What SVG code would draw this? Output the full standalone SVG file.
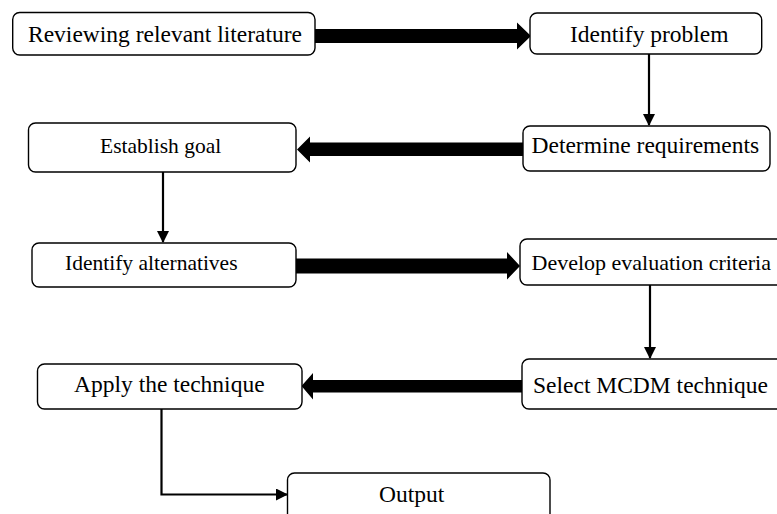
<svg xmlns="http://www.w3.org/2000/svg" width="777" height="514" viewBox="0 0 777 514">
  <style>
    .box { fill: #ffffff; stroke: #000000; stroke-width: 1.4; }
    .lbl { font-family: "Liberation Serif", "Times New Roman", serif; font-size: 23.5px; fill: #000000; }
    .sm { font-size: 21.5px; }
    .md { font-size: 22px; }
    .thin { fill: none; stroke: #000000; stroke-width: 2.2; }
    .thick { fill: #000000; stroke: none; }
  </style>
  <defs>
    <marker id="tip" markerUnits="userSpaceOnUse" markerWidth="12" markerHeight="12" viewBox="0 0 12 12" refX="11" refY="6" orient="auto">
      <path d="M0,0 L12,6 L0,12 Z" fill="#000000"/>
    </marker>
  </defs>

  <rect width="777" height="514" fill="#ffffff"/>

  <!-- connectors -->
  <g id="connectors">
    <polygon class="thick" points="315,29 517,29 517,22.5 531,36 517,49.5 517,43 315,43"/>
    <line class="thin" x1="649" y1="54" x2="649" y2="125" marker-end="url(#tip)"/>
    <polygon class="thick" points="523,142.5 310,142.5 310,136.5 297,149.5 310,162.5 310,156 523,156"/>
    <line class="thin" x1="163" y1="172" x2="163" y2="242" marker-end="url(#tip)"/>
    <polygon class="thick" points="296,258.5 507,258.5 507,252 520,266 507,279.5 507,273.5 296,273.5"/>
    <line class="thin" x1="650" y1="285" x2="650" y2="358" marker-end="url(#tip)"/>
    <polygon class="thick" points="522,380 313,380 313,373 301.5,386 313,399.5 313,392.5 522,392.5"/>
    <polyline class="thin" points="161.5,409 161.5,494.5 287,494.5" marker-end="url(#tip)"/>
  </g>

  <g id="review">
    <rect class="box" x="12.7" y="12.5" width="302.3" height="42.5" rx="7"/>
    <text class="lbl" x="28" y="41.5">Reviewing relevant literature</text>
  </g>
  <g id="problem">
    <rect class="box" x="530" y="13" width="231.7" height="41" rx="7"/>
    <text class="lbl" x="570" y="41.5">Identify problem</text>
  </g>
  <g id="requirements">
    <rect class="box" x="523" y="126" width="247" height="45" rx="7"/>
    <text class="lbl" x="531.5" y="153">Determine requirements</text>
  </g>
  <g id="goal">
    <rect class="box" x="28.5" y="123" width="267.5" height="49" rx="7"/>
    <text class="lbl sm" x="100" y="153">Establish goal</text>
  </g>
  <g id="alternatives">
    <rect class="box" x="32" y="243" width="264" height="44" rx="7"/>
    <text class="lbl sm" x="65" y="270">Identify alternatives</text>
  </g>
  <g id="criteria">
    <rect class="box" x="520" y="239" width="270" height="46" rx="7"/>
    <text class="lbl md" x="531.5" y="270">Develop evaluation criteria</text>
  </g>
  <g id="mcdm">
    <rect class="box" x="522" y="359" width="270" height="50" rx="7"/>
    <text class="lbl" x="533" y="393">Select MCDM technique</text>
  </g>
  <g id="apply">
    <rect class="box" x="37.5" y="364" width="264.5" height="45" rx="7"/>
    <text class="lbl" x="74" y="391.5">Apply the technique</text>
  </g>
  <g id="output">
    <rect class="box" x="287.5" y="473" width="262.5" height="60" rx="7"/>
    <text class="lbl" x="379" y="501.5">Output</text>
  </g>
</svg>
